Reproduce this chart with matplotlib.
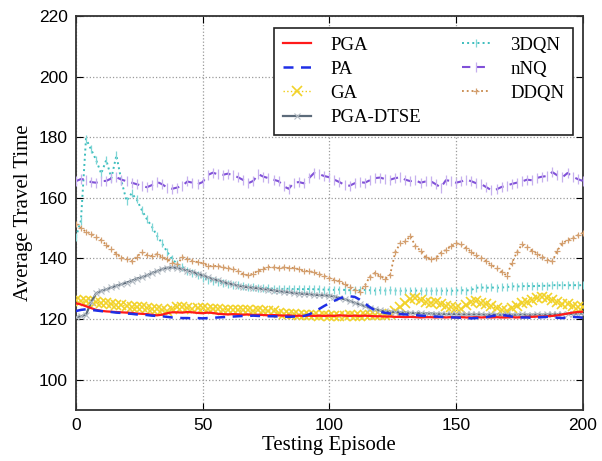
import numpy as np
import matplotlib
matplotlib.use("Agg")
import matplotlib.pyplot as plt

episodes = list(range(0, 201, 2))

pga = [125.2, 124.8, 124.2, 123.6, 123.0, 122.7, 122.5, 122.4, 122.3, 122.2,
       122.1, 122.0, 121.8, 121.7, 121.6, 121.4, 121.2, 121.4, 121.9, 122.2,
       122.2, 122.1, 122.3, 122.2, 122.0, 121.9, 122.1, 122.0, 121.7, 121.6,
       121.5, 121.6, 121.5, 121.4, 121.5, 121.3, 121.4, 121.3, 121.2, 121.3,
       121.2, 121.1, 121.2, 121.0, 121.1, 121.0, 121.1, 121.0, 121.1, 121.0,
       121.1, 121.0, 121.2, 121.1, 121.0, 121.1, 121.0, 121.1, 121.0, 120.9,
       120.9, 120.8, 120.8, 120.7, 120.7, 120.6, 120.7, 120.6, 120.5, 120.6,
       120.6, 120.5, 120.6, 120.5, 120.6, 120.5, 120.6, 120.5, 120.5, 120.6,
       120.5, 120.6, 120.5, 120.6, 120.5, 120.5, 120.6, 120.5, 120.6, 120.7,
       120.7, 120.8, 120.8, 120.9, 121.0, 121.2, 121.5, 121.8, 122.1, 122.3,
       122.4]

pa = [122.6, 123.0, 123.2, 123.0, 122.8, 122.6, 122.4, 122.3, 122.1, 122.0,
      121.8, 121.7, 121.5, 121.4, 121.3, 121.1, 121.0, 120.9, 120.7, 120.5,
      120.4, 120.3, 120.3, 120.2, 120.3, 120.2, 120.3, 120.4, 120.5, 120.6,
      120.7, 120.8, 120.9, 121.0, 121.0, 121.1, 121.0, 121.0, 120.9, 120.9,
      120.8, 120.8, 120.7, 120.8, 120.8, 121.0, 121.5, 122.3, 123.3, 124.3,
      125.2, 126.0, 126.8, 127.3, 127.5, 127.3, 126.4, 125.2, 123.9, 122.9,
      122.4, 122.0, 121.8, 121.7, 121.6, 121.5, 121.4, 121.3, 121.1, 121.0,
      120.9, 120.8, 120.7, 120.6, 120.5, 120.5, 120.4, 120.3, 120.2, 120.3,
      120.4, 120.6, 120.9, 121.2, 121.3, 121.1, 120.8, 120.6, 120.5, 120.5,
      120.4, 120.5, 120.6, 120.7, 120.6, 120.4, 120.3, 120.5, 120.7, 120.6,
      120.4]

ga = [126.3, 126.0, 125.8, 125.9, 125.5, 125.3, 125.2, 124.9, 124.7, 124.5,
      124.3, 124.0, 123.8, 124.0, 123.7, 123.4, 123.2, 122.9, 122.7, 123.2,
      123.8, 123.9, 123.6, 123.4, 123.6, 123.5, 123.3, 123.4, 123.2, 123.0,
      123.1, 122.9, 123.0, 122.8, 122.9, 122.7, 122.8, 122.6, 122.7, 122.5,
      122.1, 121.8, 121.7, 121.6, 121.4, 121.3, 121.2, 121.3, 121.1, 121.2,
      121.1, 121.0, 121.1, 121.0, 121.2, 121.1, 121.0, 121.2, 121.3, 121.2,
      121.3, 121.4, 121.8, 122.6, 123.8, 125.2, 126.5, 126.8, 126.2, 125.6,
      125.4, 125.6, 125.0, 124.4, 123.9, 123.6, 123.3, 124.5, 125.6, 126.0,
      125.2, 124.8, 124.2, 123.5, 122.9, 122.6, 123.5, 124.4, 125.3, 125.6,
      126.4, 127.0, 127.2, 126.8, 126.2, 125.6, 125.1, 124.8, 124.4, 124.0,
      123.8]

pga_dtse = [120.6, 120.9, 121.4, 125.5, 128.5, 129.3, 129.8, 130.4, 131.0, 131.5,
            132.0, 132.6, 133.3, 133.8, 134.4, 135.2, 135.8, 136.5, 136.9, 137.0,
            136.9, 136.5, 136.0, 135.6, 135.0, 134.4, 133.8, 133.2, 132.8, 132.3,
            131.8, 131.4, 131.0, 130.7, 130.5, 130.3, 130.1, 129.9, 129.7, 129.4,
            129.2, 129.0, 128.8, 128.6, 128.4, 128.3, 128.2, 128.0, 127.9, 127.8,
            127.7, 127.4, 127.0, 126.5, 126.0, 125.4, 124.8, 124.2, 123.7, 123.2,
            122.8, 122.5, 122.4, 122.3, 122.2, 122.1, 122.0, 121.9, 121.9, 121.8,
            121.8, 121.7, 121.7, 121.6, 121.6, 121.6, 121.5, 121.5, 121.5, 121.5,
            121.5, 121.4, 121.5, 121.4, 121.4, 121.5, 121.4, 121.4, 121.5, 121.4,
            121.4, 121.5, 121.4, 121.5, 121.5, 121.6, 121.6, 121.7, 121.7, 121.8,
            121.8]

dqn3 = [147.0, 152.5, 179.5, 176.0, 172.5, 168.0, 172.5, 166.5, 174.0, 165.5,
        159.0, 161.5, 159.5, 156.0, 153.0, 150.5, 147.5, 145.0, 142.2, 139.8,
        138.2, 137.2, 136.0, 135.2, 134.5, 133.6, 133.0, 132.5, 132.1, 131.8,
        131.5, 131.3, 131.1, 130.9, 130.7, 130.5, 130.3, 130.2, 130.1, 130.0,
        130.0, 129.9, 130.0, 129.8, 129.9, 129.8, 129.9, 129.8, 129.8, 129.7,
        129.7, 129.6, 129.7, 129.6, 129.5, 129.6, 129.5, 129.6, 129.5, 129.4,
        129.5, 129.4, 129.5, 129.4, 129.3, 129.4, 129.3, 129.4, 129.3, 129.4,
        129.3, 129.4, 129.3, 129.4, 129.3, 129.4, 129.5, 129.4, 129.6, 130.3,
        130.4, 130.3, 130.4, 130.3, 130.4, 130.5, 130.8, 130.7, 130.8, 130.9,
        130.8, 130.9, 131.0, 130.9, 131.2, 131.1, 131.2, 131.1, 131.2, 131.1,
        131.2]

nnq = [165.5, 166.2, 166.0, 165.2, 165.0, 165.5, 165.6, 166.4, 166.8, 166.0,
       165.5, 165.0, 164.5, 164.0, 163.5, 164.2, 165.3, 164.5, 163.4, 163.0,
       163.4, 164.0, 165.4, 165.0, 164.5, 165.2, 167.5, 168.3, 167.8, 167.6,
       168.0, 167.4, 166.8, 165.9, 164.8, 165.6, 167.8, 167.0, 166.5, 166.0,
       165.5, 163.8, 163.0, 165.0, 165.2, 164.8, 166.5, 168.2, 167.8, 167.2,
       166.8, 166.0, 165.2, 164.3, 164.0, 164.8, 165.2, 165.0, 165.8, 166.5,
       166.7, 166.2, 166.0, 166.5, 166.8, 166.0, 165.5, 165.8, 165.0, 165.4,
       165.5, 164.5, 163.4, 165.8, 165.6, 165.0, 165.4, 166.0, 165.5, 164.8,
       164.5, 163.5, 162.5, 162.8, 163.6, 164.0, 164.6, 165.0, 165.4, 166.0,
       165.8, 166.6, 167.0, 167.2, 168.5, 167.4, 166.8, 168.2, 167.0, 166.2,
       165.6]

ddqn = [151.2, 150.0, 148.8, 148.2, 147.0, 146.0, 144.5, 143.0, 141.5, 140.2,
        139.8, 139.0, 140.5, 142.0, 141.2, 140.8, 141.4, 140.5, 139.7, 138.6,
        138.0, 140.4, 139.8, 139.2, 138.8, 138.4, 137.6, 137.4, 137.6, 137.0,
        136.8, 136.5, 135.8, 134.8, 134.4, 135.0, 136.0, 136.6, 137.2, 137.0,
        136.8, 137.0, 136.8, 136.9, 136.4, 136.0, 135.8, 135.4, 134.8, 134.2,
        133.6, 133.0, 132.4, 131.5, 130.6, 129.6, 128.9, 131.0, 134.0, 135.2,
        134.2, 133.2, 134.6, 142.0, 145.0, 145.6, 147.4, 144.0, 142.6, 140.4,
        139.7, 140.0, 141.8, 142.8, 144.0, 145.0, 144.6, 143.4, 142.2, 141.0,
        140.2, 139.0, 137.8, 136.8, 135.6, 134.3, 138.4, 142.0, 144.6, 143.8,
        142.6, 141.6, 140.6, 139.6, 139.0, 142.6, 145.0, 146.0, 146.8, 147.6,
        148.4]

labels = ["PGA", "PA", "GA", "PGA-DTSE", "3DQN", "nNQ", "DDQN"]
x_ticks = [0, 50, 100, 150, 200]
y_ticks = [100, 120, 140, 160, 180, 200, 220]

fig = plt.figure(figsize=(6.02, 4.61), dpi=100)
ax = fig.add_axes([0.126, 0.111, 0.842, 0.854])

ax.plot(episodes, pga, color="#ff1a1a", lw=1.6, label=labels[0], zorder=7)
ax.plot(episodes, pa, color="#1f2fe6", lw=1.8, ls=(0, (4, 3)), label=labels[1], zorder=8)
ax.plot(episodes, ga, color="#f0cc10", lw=1.0, ls=":", marker="x", ms=7, mew=1.2,
        mec="#f2d22a", label=labels[2], zorder=4)
ax.plot(episodes, pga_dtse, color="#5c6b7a", lw=1.6, marker="x", ms=5, mew=0.8,
        mec="#b4bcc4", label=labels[3], zorder=5)
ax.plot(episodes, dqn3, color="#3cbdbd", lw=1.4, ls=":", marker="|", ms=6, mew=0.9,
        mec="#7fd6d6", label=labels[4], zorder=3)
ax.plot(episodes, nnq, color="#8050d8", lw=1.5, ls=(0, (4, 3)), marker="|", ms=7, mew=0.9,
        mec="#c6b0ee", label=labels[5], zorder=3)
ax.plot(episodes, ddqn, color="#c8884a", lw=1.3, ls=":", marker="+", ms=5, mew=0.9,
        mec="#d4a070", label=labels[6], zorder=3)

ax.set_xlim(0, 200)
ax.set_ylim(90, 220)
ax.set_xticks(x_ticks)
ax.set_yticks(y_ticks)
ax.tick_params(direction="in", top=True, right=True, length=5, width=0.8,
               labelsize=12.5, pad=6)
for lab in ax.get_xticklabels() + ax.get_yticklabels():
    lab.set_fontfamily("Liberation Sans")
ax.grid(True, ls=":", color="#9a9a9a", lw=0.9)
for s in ax.spines.values():
    s.set_linewidth(1.3)
    s.set_color("#333333")

ax.set_xlabel("Testing Episode", family="Liberation Serif", fontsize=15, labelpad=2)
ax.set_ylabel("Average Travel Time", family="Liberation Serif", fontsize=15, labelpad=4)

leg = ax.legend(loc="upper right", ncol=2, prop={"family": "Liberation Serif", "size": 13.5},
                frameon=True, fancybox=False, edgecolor="#222222", framealpha=1,
                handlelength=1.5, handletextpad=1.05, columnspacing=2.2,
                labelspacing=0.38, borderpad=0.45, borderaxespad=0,
                bbox_to_anchor=(0.980, 0.970))
leg.get_frame().set_linewidth(1.2)

fig.savefig("out.png", dpi=100)
